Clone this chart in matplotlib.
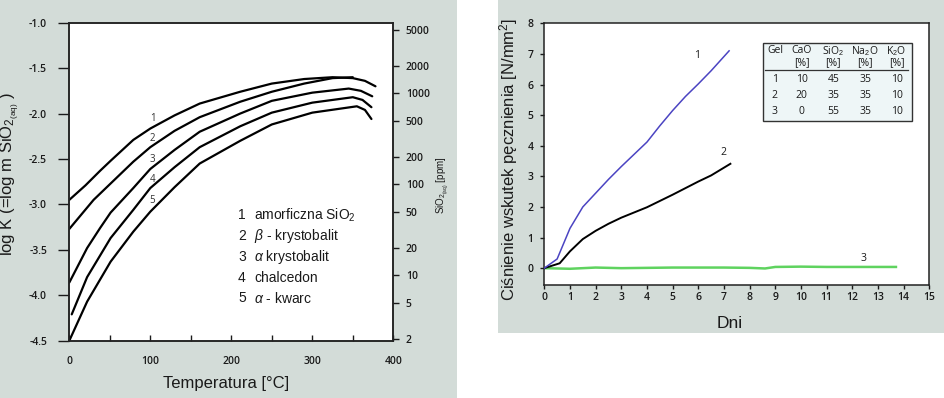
import numpy as np
import matplotlib
matplotlib.use("Agg")
import matplotlib.pyplot as plt
from matplotlib.patches import Rectangle

plt.rcParams['font.family'] = ['Liberation Sans', 'DejaVu Sans']
plt.rcParams['mathtext.fontset'] = 'custom'
plt.rcParams['mathtext.rm'] = 'Liberation Sans'
plt.rcParams['mathtext.it'] = 'Liberation Sans:italic'
plt.rcParams['mathtext.bf'] = 'Liberation Sans:bold'

# ---------------- data: left panel (solubility of SiO2 phases) ----------------
T1 = [0, 20, 38, 51, 79, 100, 130, 161, 211, 250, 290, 325, 350, 365, 378]
K1 = [-2.95, -2.79, -2.63, -2.52, -2.29, -2.165, -2.02, -1.89, -1.76, -1.67, -1.62, -1.60, -1.61, -1.64, -1.70]
T2 = [0, 30, 51, 79, 100, 130, 161, 211, 250, 290, 325, 350]
K2 = [-3.27, -2.95, -2.77, -2.53, -2.37, -2.19, -2.04, -1.87, -1.76, -1.67, -1.61, -1.60]
T3 = [0, 22, 38, 51, 79, 100, 130, 161, 211, 250, 300, 345, 360, 374]
K3 = [-3.86, -3.48, -3.26, -3.09, -2.82, -2.61, -2.40, -2.20, -2.00, -1.86, -1.77, -1.725, -1.75, -1.81]
T4 = [3, 22, 51, 79, 100, 130, 161, 211, 250, 300, 350, 362, 373]
K4 = [-4.21, -3.80, -3.37, -3.06, -2.82, -2.59, -2.37, -2.14, -1.99, -1.88, -1.82, -1.85, -1.93]
T5 = [0, 22, 51, 79, 100, 130, 161, 211, 250, 300, 355, 365, 373]
K5 = [-4.50, -4.07, -3.63, -3.30, -3.08, -2.81, -2.55, -2.30, -2.12, -1.99, -1.92, -1.96, -2.06]
curve_labels = ['1', '2', '3', '4', '5']
label_T = [103, 103, 102, 103, 102]
label_K = [-2.055, -2.28, -2.51, -2.73, -2.96]
legend_nums = ['1', '2', '3', '4', '5']
legend_names = ['amorficzna SiO$_2$', r'$\beta$ - krystobalit', r'$\alpha$ krystobalit',
                'chalcedon', r'$\alpha$ - kwarc']
left_xticks = [0, 50, 100, 150, 200, 250, 300, 350, 400]
left_xticklabels = ['0', '', '100', '', '200', '', '300', '', '400']
left_yticks = [-1.0, -1.5, -2.0, -2.5, -3.0, -3.5, -4.0, -4.5]
ppm_ticks = [2, 5, 10, 20, 50, 100, 200, 500, 1000, 2000, 5000]
log_ppm_offset = np.log10(60.08e3)   # ppm = m * 60.08 g/mol * 1000

# ---------------- data: right panel (swelling pressure) ----------------
d1 = [0, 0.5, 1.0, 1.5, 2.0, 2.5, 3.0, 3.5, 4.0, 4.5, 5.0, 5.5, 6.0, 6.5, 7.2]
p1 = [0, 0.30, 1.30, 2.00, 2.45, 2.90, 3.32, 3.72, 4.12, 4.65, 5.15, 5.61, 6.02, 6.45, 7.10]
d2 = [0, 0.6, 1.0, 1.5, 2.0, 2.5, 3.0, 4.0, 5.0, 6.0, 6.5, 7.25]
p2 = [0, 0.16, 0.55, 0.95, 1.22, 1.45, 1.65, 1.99, 2.40, 2.83, 3.03, 3.41]
d3 = [0, 1, 2, 3, 4, 5, 6, 7, 8, 8.6, 9, 10, 11, 12, 13, 13.7]
p3 = [0, -0.02, 0.02, 0.0, 0.01, 0.02, 0.02, 0.02, 0.01, -0.01, 0.04, 0.05, 0.04, 0.04, 0.04, 0.04]
r_labels = ['1', '2', '3']
r_label_d = [5.94, 6.97, 12.43]
r_label_p = [6.94, 3.78, 0.33]
table_header1 = ['Gel', 'CaO', 'SiO$_2$', 'Na$_2$O', 'K$_2$O']
table_header2 = ['', '[%]', '[%]', '[%]', '[%]']
table_rows = [['1', '10', '45', '35', '10'],
              ['2', '20', '35', '35', '10'],
              ['3', '0', '55', '35', '10']]

# ---------------- figure ----------------
W, H = 944, 398
fig = plt.figure(figsize=(W / 100, H / 100), dpi=100)
panel = '#d3dcd8'
fig.patches.append(Rectangle((0, 0), 456.7 / W, 1, transform=fig.transFigure,
                             facecolor=panel, edgecolor='none', zorder=-10))
fig.patches.append(Rectangle((498.3 / W, 1 - 333.3 / H), 1 - 498.3 / W, 333.3 / H,
                             transform=fig.transFigure, facecolor=panel,
                             edgecolor='none', zorder=-10))

txtc = '#1a1a1a'
tickfam = ['Open Sans', 'DejaVu Sans']

# ---- left axes ----
ax = fig.add_axes([69.3 / W, 1 - 340.7 / H, 324 / W, 318 / H])
for T, K in [(T1, K1), (T2, K2), (T3, K3), (T4, K4), (T5, K5)]:
    ax.plot(T, K, color='black', lw=1.6, solid_capstyle='round', solid_joinstyle='round')
ax.set_xlim(0, 400)
ax.set_ylim(-4.5, -1.0)
ax.set_xticks(left_xticks)
ax.set_xticklabels(left_xticklabels)
ax.set_yticks(left_yticks)
ax.set_yticklabels([f'{v:.1f}' for v in left_yticks])
ax.tick_params(axis='y', direction='out', length=8, width=1, pad=8, labelsize=7.5, colors=txtc)
ax.tick_params(axis='x', direction='in', length=4.5, width=1, pad=11, labelsize=7.5, colors=txtc)
for lab in ax.get_xticklabels() + ax.get_yticklabels():
    lab.set_fontfamily(tickfam)
    lab.set_fontweight('semibold')
for s in ax.spines.values():
    s.set_color('#222222')
    s.set_linewidth(1.1)
for lab, t, k in zip(curve_labels, label_T, label_K):
    ax.text(t, k, lab, fontsize=7, ha='center', va='center', color='#333333',
            fontfamily=tickfam)
leg_y = [0.395, 0.329, 0.263, 0.197, 0.134]
for n, name, y in zip(legend_nums, legend_names, leg_y):
    ax.text(0.533, y, n, transform=ax.transAxes, fontsize=10, ha='center', va='center', color=txtc)
    ax.text(0.570, y, name, transform=ax.transAxes, fontsize=10, ha='left', va='center', color=txtc)
ax.set_xlabel('Temperatura [°C]', fontsize=12, color=txtc)
ax.xaxis.set_label_coords(0.484, -0.112)
ax.set_ylabel(r'log K (=log m SiO$_{2_{\mathrm{(aq)}}}$ )', fontsize=12, color=txtc)
ax.yaxis.set_label_coords(-0.146, 0.524)

ax2 = ax.twinx()
ax2.set_yscale('log')
ax2.set_ylim(10 ** (-4.5 + log_ppm_offset), 10 ** (-1.0 + log_ppm_offset))
ax2.set_yticks(ppm_ticks)
ax2.set_yticklabels([str(v) for v in ppm_ticks])
ax2.yaxis.set_minor_locator(matplotlib.ticker.NullLocator())
ax2.tick_params(axis='y', direction='out', length=4, width=1, pad=5, labelsize=7.5, colors=txtc)
for lab in ax2.get_yticklabels():
    lab.set_fontfamily(tickfam)
    lab.set_fontweight('semibold')
for s in ax2.spines.values():
    s.set_color('#222222')
    s.set_linewidth(1.1)
ax2.set_ylabel(r'SiO$_{2_{\mathrm{(aq)}}}$ [ppm]', fontsize=7, color=txtc, rotation=90)
ax2.yaxis.set_label_coords(1.129, 0.49)

# ---- right axes ----
bx = fig.add_axes([544.3 / W, 1 - 285 / H, 385 / W, 261.7 / H])
bx.plot(d3, p3, color='#5fd35f', lw=1.8, zorder=2)
bx.plot(d2, p2, color='black', lw=1.4, zorder=3)
bx.plot(d1, p1, color='#4b44c2', lw=1.1, zorder=4)
bx.set_xlim(0, 15)
bx.set_ylim(-0.55, 8)
bx.set_xticks(range(0, 16))
bx.set_yticks(range(0, 9))
bx.tick_params(axis='both', direction='out', length=3, width=1, labelsize=7.5, colors=txtc)
bx.tick_params(axis='y', pad=5)
bx.tick_params(axis='x', pad=2)
for lab in bx.get_xticklabels() + bx.get_yticklabels():
    lab.set_fontfamily(tickfam)
    lab.set_fontweight('semibold')
for s in bx.spines.values():
    s.set_color('#222222')
    s.set_linewidth(1.1)
for lab, d, p in zip(r_labels, r_label_d, r_label_p):
    bx.text(d, p, lab, fontsize=7.5, ha='center', va='center', color=txtc,
            fontfamily=tickfam)
bx.set_xlabel('Dni', fontsize=12.5, color=txtc)
bx.xaxis.set_label_coords(0.482, -0.118)
bx.set_ylabel('Ciśnienie wskutek pęcznienia [N/mm$^2$]', fontsize=12, color=txtc)
bx.yaxis.set_label_coords(-0.063, 0.478)

# table inset
bx.add_patch(Rectangle((0.567, 0.628), 0.954 - 0.567, 0.926 - 0.628, transform=bx.transAxes,
                       facecolor='#eef6f7', edgecolor='#333333', lw=1.0, zorder=5))
col_x = [0.599, 0.669, 0.751, 0.833, 0.915]
tf = dict(fontsize=7.5, ha='center', va='center', color=txtc, transform=bx.transAxes, zorder=6,
          fontfamily=tickfam)
for x, h1, h2 in zip(col_x, table_header1, table_header2):
    bx.text(x, 0.895, h1, **tf)
    bx.text(x, 0.849, h2, **tf)
bx.plot([0.573, 0.944], [0.822, 0.822], transform=bx.transAxes, color='#333333', lw=0.9, zorder=6)
for row, y in zip(table_rows, [0.786, 0.726, 0.662]):
    for x, v in zip(col_x, row):
        bx.text(x, y, v, **tf)

fig.savefig('out.png', dpi=100, facecolor='white')
